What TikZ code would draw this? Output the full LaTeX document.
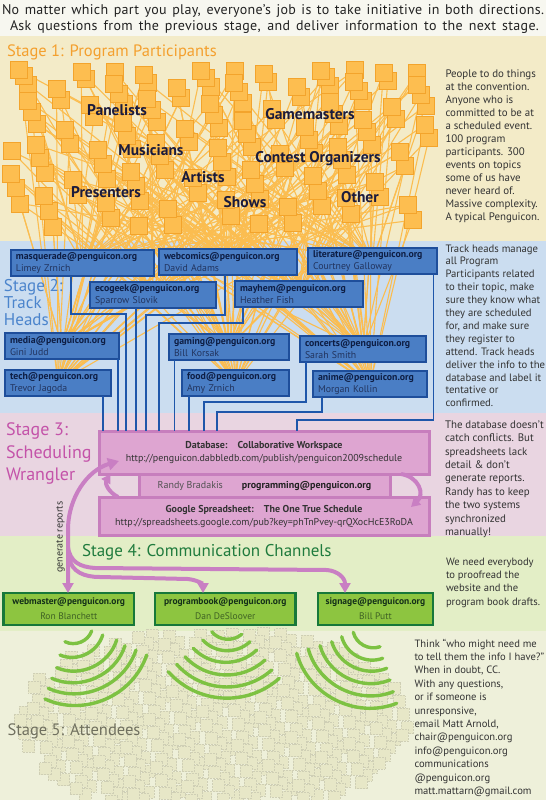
\documentclass[tikz,border=0pt]{standalone}
\usepackage{fontspec}
\setmainfont{PT Sans}
\usetikzlibrary{arrows.meta}
\definecolor{hdrbg}{HTML}{F7F7F0}
\definecolor{sonebg}{HTML}{F3EBC8}
\definecolor{stwobg}{HTML}{CBDDF0}
\definecolor{sthreebg}{HTML}{E9D5E1}
\definecolor{sfourbg}{HTML}{E3EEC6}
\definecolor{sfivebg}{HTML}{EEF0DA}
\definecolor{osqfill}{HTML}{FDBE50}
\definecolor{osqdraw}{HTML}{F3A42C}
\definecolor{olinec}{HTML}{FBBD50}
\definecolor{sonetitle}{HTML}{F3A02E}
\definecolor{lblc}{HTML}{1B1B3C}
\definecolor{stwotitle}{HTML}{4B84CC}
\definecolor{bbfill}{HTML}{4A7EC5}
\definecolor{bbdraw}{HTML}{1E4E9B}
\definecolor{bbtext}{HTML}{0E1E44}
\definecolor{bbname}{HTML}{22345E}
\definecolor{bconn}{HTML}{1E56AA}
\definecolor{sthreetitle}{HTML}{C453A9}
\definecolor{pkfill}{HTML}{DEA5D1}
\definecolor{pkdraw}{HTML}{C77EBD}
\definecolor{parrowc}{HTML}{C97FC3}
\definecolor{sfourtitle}{HTML}{1F7B3D}
\definecolor{gbfill}{HTML}{8DC540}
\definecolor{gbdraw}{HTML}{17783A}
\definecolor{gbtext}{HTML}{143019}
\definecolor{gbname}{HTML}{3F6224}
\definecolor{arcc}{HTML}{7DC242}
\definecolor{sqfivefill}{HTML}{E7E7C7}
\definecolor{sqfivedraw}{HTML}{CFCFB5}
\definecolor{sfivetitle}{HTML}{70705F}
\definecolor{bodyc}{HTML}{333333}
\definecolor{hdrtext}{HTML}{222222}
\newcommand\pPos[1]{\pgfmathsetmacro\pX{10+422*frac((#1)*0.7548776662+0.21)}\pgfmathsetmacro\pY{70+158*pow(frac((#1)*0.5698402910+0.47),1.3)}}
\begin{document}
\begin{tikzpicture}[x=1pt,y=-1pt,
  every node/.style={inner sep=0pt,outer sep=0pt},
  osq/.style={fill=osqfill,draw=osqdraw,line width=0.6pt},
  oline/.style={draw=olinec,line width=1.1pt},
  lbl/.style={font=\bfseries\fontsize{15.5}{17}\selectfont,text=lblc},
  sidetext/.style={anchor=north west,align=left,text=bodyc},
  hdr/.style={font=\fontsize{14}{15}\selectfont\addfontfeatures{LetterSpace=2.2},text=hdrtext},
  bbox/.style={draw=bbdraw,fill=bbfill,line width=1.4pt,anchor=north west,inner xsep=5pt,inner ysep=0pt,align=left,minimum height=26pt,font=\fontsize{9.8}{11.6}\selectfont,text=bbname},
  bconnector/.style={draw=bconn,line width=1.6pt},
  pbox/.style={draw=pkdraw,fill=pkfill,line width=3pt,align=center,text=bodyc,font=\fontsize{10}{13}\selectfont},
  gbox/.style={draw=gbdraw,fill=gbfill,line width=2.5pt,align=center,minimum height=32pt,font=\fontsize{9.5}{15}\selectfont,text=gbname},
  parrow/.style={draw=parrowc,line width=4pt},
  garc/.style={draw=arcc,line width=3.4pt,line cap=round},
  sqfive/.style={fill=sqfivefill,draw=sqfivedraw,line width=0.5pt,densely dotted}
]
\useasboundingbox (0,0) rectangle (546,800);
% bands
\fill[hdrbg] (0,0) rectangle (546,36);
\fill[sonebg] (0,36) rectangle (546,241);
\fill[stwobg] (0,241) rectangle (546,413);
\fill[sthreebg] (0,413) rectangle (546,536);
\fill[sfourbg] (0,536) rectangle (546,631);
\fill[sfivebg] (0,631) rectangle (546,800);
% header
\node[hdr] (h1) at (273,11) {\makebox[542pt][s]{No matter which part you play, everyone’s job is to take initiative in both directions.}};
\node[hdr] (h2) at (274.5,27) {\makebox[529pt][s]{Ask questions from the previous stage, and deliver information to the next stage.}};
% stage 1
\node[anchor=west,font=\fontsize{16.5}{18}\selectfont,text=sonetitle] (t1) at (7,52) {Stage 1: Program Participants};
\coordinate (T1) at (82.5,263);
\coordinate (T2) at (228,262);
\coordinate (T3) at (372.5,261);
\coordinate (T4) at (153,295);
\coordinate (T5) at (299,294);
\coordinate (T6) at (62,346);
\coordinate (T7) at (58,383);
\coordinate (T8) at (229,347);
\coordinate (T9) at (235.5,383);
\coordinate (T10) at (363,349);
\coordinate (T11) at (370,384);
\foreach \i in {1,...,130}{
  \pPos{\i}
  \pgfmathtruncatemacro\ta{mod(\i*7,11)+1}
  \pgfmathtruncatemacro\tb{mod(\i*5+3,11)+1}
  \draw[oline] (\pX,\pY) -- (T\ta);
  \draw[oline] (\pX,\pY) -- (T\tb);
}
\foreach \i in {1,...,130}{
  \pPos{\i}
  \draw[osq] (\pX-8.5,\pY-8.5) rectangle ++(17,17);
}
\node[lbl] (l1) at (117,110) {Panelists};
\node[lbl] (l2) at (151,150) {Musicians};
\node[lbl] (l3) at (203,177) {Artists};
\node[lbl] (l4) at (106,192) {Presenters};
\node[lbl] (l5) at (245,202) {Shows};
\node[lbl] (l6) at (310,114) {Gamemasters};
\node[lbl] (l7) at (318,159) {Contest Organizers};
\node[lbl] (l8) at (360,197) {Other};
\node[sidetext,font=\fontsize{10.9}{12.94}\selectfont] (d1) at (445.5,70) {People to do things\\at the convention.\\Anyone who is\\committed to be at\\a scheduled event.\\100 program\\participants. 300\\events on topics\\some of us have\\never heard of.\\Massive complexity.\\A typical Penguicon.};
% stage 2
\node[anchor=north west,align=left,font=\fontsize{17}{16.7}\selectfont,text=stwotitle] (t2) at (4,279.5) {Stage 2:\\Track\\Heads};
\node[sidetext,font=\fontsize{10.7}{12.9}\selectfont] (d2) at (445.5,244.6) {Track heads manage\\all Program\\Participants related\\to their topic, make\\sure they know what\\they are scheduled\\for, and make sure\\they register to\\attend. Track heads\\deliver the info to the\\database and label it\\tentative or\\confirmed.};
% stage 3 boxes (first so connectors end on them)
\node[pbox,minimum width=251pt,minimum height=23pt] (rb) at (264.5,485.5) {\color{bodyc!85}Randy Bradakis\hspace{19pt}\textbf{\color{hdrtext}programming@penguicon.org}};
\node[pbox,minimum width=330pt,minimum height=43pt] (db) at (264,452.5) {\textbf{Database:\quad Collaborative Workspace}\\http://penguicon.dabbledb.com/publish/penguicon2009schedule};
\node[pbox,minimum width=330pt,minimum height=38pt] (gs) at (264,516) {\textbf{Google Spreadsheet:\quad The One True Schedule}\\http://spreadsheets.google.com/pub?key=phTnPvey-qrQXocHcE3RoDA};
% track head boxes
\node[bbox,text width=133pt] (masq) at (11,250) {\textbf{\color{bbtext}masquerade@penguicon.org}\\Limey Zrnich};
\node[bbox,text width=128pt] (webc) at (159,249) {\textbf{\color{bbtext}webcomics@penguicon.org}\\David Adams};
\node[bbox,text width=119pt] (lit) at (308,248) {\textbf{\color{bbtext}literature@penguicon.org}\\Courtney Galloway};
\node[bbox,text width=116pt] (eco) at (90,282) {\textbf{\color{bbtext}ecogeek@penguicon.org}\\Sparrow Slovik};
\node[bbox,text width=118pt] (may) at (235,281) {\textbf{\color{bbtext}mayhem@penguicon.org}\\Heather Fish};
\node[bbox,text width=104pt] (media) at (5,333) {\textbf{\color{bbtext}media@penguicon.org}\\Gini Judd};
\node[bbox,text width=96pt] (tech) at (5,370) {\textbf{\color{bbtext}tech@penguicon.org}\\Trevor Jagoda};
\node[bbox,text width=110pt] (gam) at (169,334) {\textbf{\color{bbtext}gaming@penguicon.org}\\Bill Korsak};
\node[bbox,text width=97pt] (food) at (182,370) {\textbf{\color{bbtext}food@penguicon.org}\\Amy Zrnich};
\node[bbox,text width=116pt] (conc) at (300,336) {\textbf{\color{bbtext}concerts@penguicon.org}\\Sarah Smith};
\node[bbox,text width=104pt] (anim) at (313,371) {\textbf{\color{bbtext}anime@penguicon.org}\\Morgan Kollin};
% connectors to database
\draw[bconnector] (tech.south -| 103,0) -- (db.north -| 103,0);
\draw[bconnector] (media.south -| 118,0) -- (db.north -| 118,0);
\draw[bconnector] (masq.south -| 71,0) -- (71,314) -- (126,314) -- (db.north -| 126,0);
\draw[bconnector] (eco.south -| 136,0) -- (db.north -| 136,0);
\draw[bconnector] (webc.south -| 225,0) -- (225,315) -- (146,315) -- (db.north -| 146,0);
\draw[bconnector] (may.south -| 243,0) -- (243,323) -- (159,323) -- (db.north -| 159,0);
\draw[bconnector] (gam.south -| 174.5,0) -- (db.north -| 174.5,0);
\draw[bconnector] (food.south -| 189,0) -- (db.north -| 189,0);
\draw[bconnector] (conc.south -| 305.7,0) -- (305.7,402) -- (204,402) -- (db.north -| 204,0);
\draw[bconnector] (anim.south -| 321.7,0) -- (321.7,411.7) -- (216.7,411.7) -- (db.north -| 216.7,0);
\draw[bconnector] (lit.south -| 433.3,0) -- (433.3,420) -- (296.7,420) -- (db.north -| 296.7,0);
% stage 3 text
\node[anchor=north west,align=left,font=\fontsize{18}{22.7}\selectfont,text=sthreetitle] (t3) at (6,422.5) {Stage 3:\\Scheduling\\Wrangler};
\node[sidetext,font=\fontsize{10.9}{13.36}\selectfont] (d3) at (445,420.8) {The database doesn’t\\catch conflicts. But\\spreadsheets lack\\detail \& don’t\\generate reports.\\Randy has to keep\\the two systems\\synchronized\\manually!};
% stage 4
\node[anchor=west,font=\fontsize{17}{19}\selectfont,text=sfourtitle] (t4) at (82,552.6) {Stage 4: Communication Channels};
\node[sidetext,font=\fontsize{10.6}{13.2}\selectfont] (d4) at (446,558) {We need everybody\\to proofread the\\website and the\\program book drafts.};
\node[gbox,minimum width=130.5pt] (web) at (68.75,609) {\textbf{\color{gbtext}webmaster@penguicon.org}\\Ron Blanchett};
\node[gbox,minimum width=140.5pt] (pbk) at (225.25,609) {\textbf{\color{gbtext}programbook@penguicon.org}\\Dan DeSloover};
\node[gbox,minimum width=115.2pt] (sig) at (375.4,609) {\textbf{\color{gbtext}signage@penguicon.org}\\Bill Putt};
% pink arrows
\draw[parrow,-{Triangle[length=9pt,width=10pt]}] (gs.north -| 118,0) .. controls (108,492) and (105,483) .. (db.south -| 110.5,0);
\draw[parrow,-{Triangle[length=9pt,width=10pt]}] (db.south -| 401,0) .. controls (419,477) and (425,494) .. (411,507);
\draw[parrow,{Triangle[length=10pt,width=11pt]}-{Triangle[length=11pt,width=12pt]}] (web.north -| 68,0) -- (68,530) .. controls (68,497) and (88,470) .. (119,461);
\draw[parrow,-{Triangle[length=10pt,width=11pt]}] (68,547) .. controls (70,562) and (80,567) .. (95,568) -- (327,570) .. controls (338,571) and (345,578) .. (sig.north -| 345,0);
\draw[parrow,-{Triangle[length=10pt,width=11pt]}] (69,558) .. controls (72,572) and (84,577) .. (100,577) -- (188,579) .. controls (197,580) and (203,584) .. (pbk.north -| 203,0);
\node[rotate=90,font=\fontsize{10}{12}\selectfont,text=bodyc] (gr) at (60.5,537) {generate reports};
% stage 5
\foreach \i in {1,...,520}{
  \pgfmathsetmacro\qx{18+392*frac(\i*0.7548776662+0.5)}
  \pgfmathsetmacro\qy{632+170*frac(\i*0.5698402910+0.13)}
  \pgfmathsetmacro\ddx{(\qx-214)/196}
  \pgfmathsetmacro\ddy{(\qy-722)/96}
  \pgfmathtruncatemacro\ok{ifthenelse(\ddx*\ddx+\ddy*\ddy<1,1,0)}
  \ifnum\ok=1 \draw[sqfive] (\qx-6,\qy-6) rectangle ++(12,12);\fi
}
\draw[garc] (65,641.7) to[bend right=48] (91.7,631);
\draw[garc] (60,655) to[bend right=48] (102.7,635);
\draw[garc] (56.7,667.7) to[bend right=48] (116.7,640);
\draw[garc] (51.7,678.3) to[bend right=48] (125,645.7);
\draw[garc] (48.3,688.3) to[bend right=48] (136,650);
\draw[garc] (45,699) to[bend right=48] (146.7,655);
\draw[garc] (211.7,631.7) to[bend right=45] (241.7,634.3);
\draw[garc] (202.7,640) to[bend right=45] (250,641.7);
\draw[garc] (193.3,648.3) to[bend right=45] (256.7,650);
\draw[garc] (185,656.7) to[bend right=45] (265,660);
\draw[garc] (176.7,664.3) to[bend right=45] (271.7,670);
\draw[garc] (168.3,671.7) to[bend right=45] (279.3,678.3);
\draw[garc] (353.3,632.3) to[bend right=48] (380,646.7);
\draw[garc] (341.7,636.7) to[bend right=48] (382.7,658.3);
\draw[garc] (331.7,641.7) to[bend right=48] (386.7,668.3);
\draw[garc] (320,645.7) to[bend right=48] (390,680);
\draw[garc] (308.3,649) to[bend right=48] (393.3,691.7);
\draw[garc] (296.7,653.3) to[bend right=48] (396.7,703.3);
\node[anchor=west,font=\fontsize{16.5}{18}\selectfont,text=sfivetitle] (t5) at (7.5,731) {Stage 5: Attendees};
\node[sidetext,font=\fontsize{10.6}{13.4}\selectfont] (d5) at (414.5,638.8) {Think “who might need me\\to tell them the info I have?”\\When in doubt, CC.\\With any questions,\\or if someone is\\unresponsive,\\email Matt Arnold,\\chair@penguicon.org\\info@penguicon.org\\communications\\@penguicon.org\\matt.mattarn@gmail.com};
\end{tikzpicture}
\end{document}
